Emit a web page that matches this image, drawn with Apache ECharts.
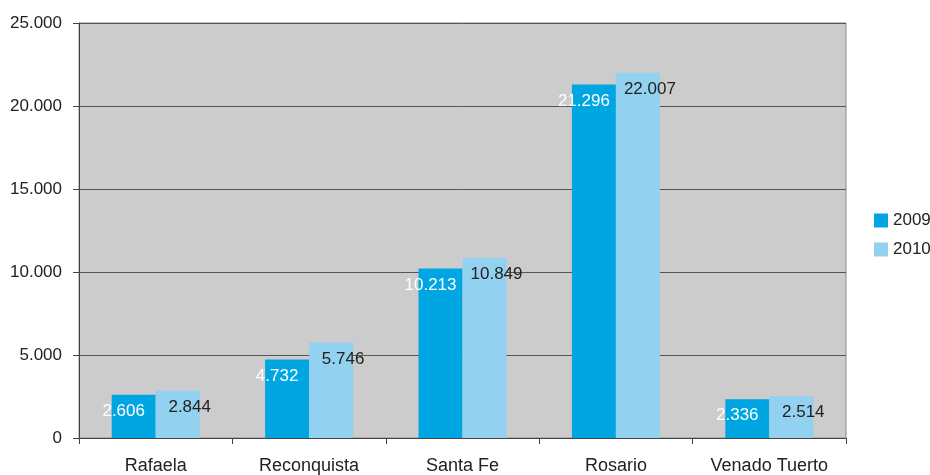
<!DOCTYPE html>
<html>
<head>
<meta charset="utf-8">
<script src="https://cdn.jsdelivr.net/npm/echarts@6/dist/echarts.min.js"></script>
<style>
  html, body { margin: 0; padding: 0; background: #fff; }
  #chart { width: 930px; height: 475px; }
</style>
</head>
<body>
<div id="chart"></div>
<script>
// ciudades y valores por año
var ciudades = ['Rafaela', 'Reconquista', 'Santa Fe', 'Rosario', 'Venado Tuerto'];
var valores2009 = [2606, 4732, 10213, 21296, 2336];
var valores2010 = [2844, 5746, 10849, 22007, 2514];

function fmt(v) {
    return String(v).replace(/\B(?=(\d{3})+(?!\d))/g, '.');
}

var myChart = echarts.init(document.getElementById('chart'));

var option = {
    animation: false,
    textStyle: { fontFamily: 'Liberation Sans, Arial, sans-serif' },
    grid: {
        left: 79, right: 84, top: 23, bottom: 36,
        show: true,
        backgroundColor: '#cccccc',
        borderColor: '#8a8a8a',
        borderWidth: 1
    },
    legend: {
        orient: 'vertical',
        left: 874, top: 212,
        padding: 0,
        itemWidth: 14, itemHeight: 14, itemGap: 12,
        icon: 'rect',
        textStyle: { fontSize: 17, color: '#222' },
        data: ['2009', '2010']
    },
    xAxis: {
        type: 'category',
        data: ciudades,
        axisLine: { lineStyle: { color: '#444', width: 1 } },
        axisTick: { show: true, length: 6, lineStyle: { color: '#444' } },
        axisLabel: { fontSize: 18, color: '#222', margin: 19 }
    },
    yAxis: {
        type: 'value',
        min: 0, max: 25000, interval: 5000,
        axisLine: { show: true, lineStyle: { color: '#444', width: 1 } },
        axisTick: { show: true, length: 6, lineStyle: { color: '#444' } },
        axisLabel: {
            fontSize: 17, color: '#222', margin: 17,
            formatter: function (v) { return fmt(v); }
        },
        splitLine: { lineStyle: { color: '#555', width: 1 } }
    },
    series: [{
        name: '2009',
        type: 'bar',
        barWidth: 44,
        barGap: '0%',
        itemStyle: { color: '#00a6e2' },
        label: {
            show: true, position: 'insideTop', offset: [-10, 3],
            color: '#fff', fontSize: 17,
            formatter: function (p) { return fmt(p.value); }
        },
        data: valores2009
    }, {
        name: '2010',
        type: 'bar',
        barWidth: 44,
        itemStyle: { color: '#92d1ef' },
        label: {
            show: true, position: 'insideTop', offset: [12, 3],
            color: '#222', fontSize: 17,
            formatter: function (p) { return fmt(p.value); }
        },
        data: valores2010
    }]
};

myChart.setOption(option);
</script>
</body>
</html>
